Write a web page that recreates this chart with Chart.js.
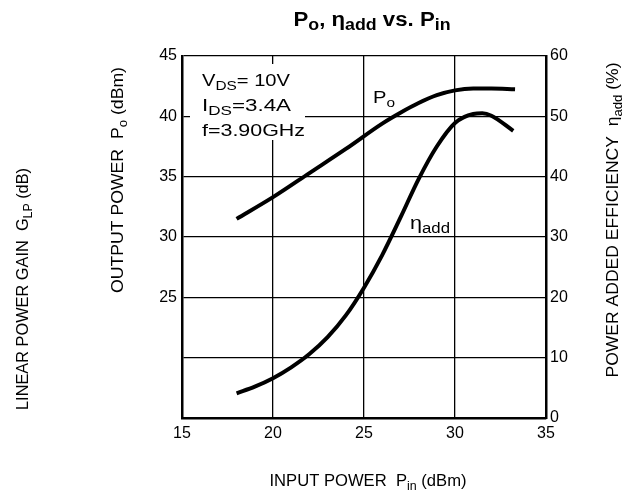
<!DOCTYPE html>
<html>
<head>
<meta charset="utf-8">
<script src="https://cdn.jsdelivr.net/npm/chart.js@4.4.1/dist/chart.umd.min.js"></script>
<style>
  html, body { margin: 0; padding: 0; background: #fff; }
  #wrap { width: 632px; height: 501px; }
</style>
</head>
<body>
<div id="wrap"><canvas id="c" width="632" height="501"></canvas></div>
<script>
// data
const pinPo = [18, 20, 22, 24, 26, 27, 28, 29, 30, 31, 32, 33.3];
const po    = [31.5, 33.3, 35.3, 37.3, 39.4, 40.3, 41.1, 41.75, 42.15, 42.3, 42.3, 42.25];

const pinEff = [18, 19, 20, 21, 22, 23, 24, 25, 26, 27, 28, 29, 30, 31, 31.5, 32, 33.2];
const eff    = [4.1, 5.2, 6.6, 8.4, 10.6, 13.4, 17.0, 21.6, 27.0, 33.2, 39.6, 45.0, 48.9, 50.4, 50.5, 50.1, 47.6];

const xTicks = [15, 20, 25, 30, 35];
const poTicks = [25, 30, 35, 40, 45];     // left axis only labels these
const effTicks = [0, 10, 20, 30, 40, 50, 60];

const FONT = '"Liberation Sans", Arial, sans-serif';

// draw text with subscripts; segs = [[text, isSub], ...]
function richWidth(ctx, segs, size, bold) {
  let w = 0;
  segs.forEach(([t, sub]) => {
    ctx.font = (bold ? 'bold ' : '') + Math.round(sub ? size * 0.78 : size) + 'px ' + FONT;
    w += ctx.measureText(t).width;
  });
  return w;
}
function drawRich(ctx, segs, x, y, size, opt = {}) {
  ctx.save();
  ctx.translate(x, y);
  if (opt.rotate) ctx.rotate(opt.rotate);
  const natural = richWidth(ctx, segs, size, opt.bold);
  if (opt.width) ctx.scale(opt.width / natural, 1);
  ctx.fillStyle = '#000';
  ctx.textBaseline = 'alphabetic';
  ctx.textAlign = 'left';
  let cx = opt.center ? -natural / 2 : 0;
  segs.forEach(([t, sub]) => {
    ctx.font = (opt.bold ? 'bold ' : '') + Math.round(sub ? size * 0.78 : size) + 'px ' + FONT;
    ctx.fillText(t, cx, sub ? size * 0.22 : 0);
    cx += ctx.measureText(t).width;
  });
  ctx.restore();
}

const decor = {
  id: 'decor',
  beforeDatasetsDraw(chart) {
    // blank patch behind the condition box (grid is broken there)
    const ctx = chart.ctx;
    ctx.save();
    ctx.fillStyle = '#fff';
    ctx.fillRect(chart.chartArea.left + 8, chart.chartArea.top + 8, 115, 76);
    ctx.restore();
  },
  afterDraw(chart) {
    const ctx = chart.ctx;
    // title
    drawRich(ctx, [['P', 0], ['o', 1], [', \u03b7', 0], ['add', 1], [' vs. P', 0], ['in', 1]], 372, 26, 20, { center: true, bold: true, width: 157 });
    // conditions
    drawRich(ctx, [['V', 0], ['DS', 1], ['= 10V', 0]], 202, 86, 17, { width: 88 });
    drawRich(ctx, [['I', 0], ['DS', 1], ['=3.4A', 0]], 202, 111, 17, { width: 89 });
    drawRich(ctx, [['f=3.90GHz', 0]], 202, 136, 17, { width: 103 });
    // curve labels
    drawRich(ctx, [['P', 0], ['o', 1]], 373, 103, 17, { width: 22 });
    drawRich(ctx, [['\u03b7', 0], ['add', 1]], 410, 229, 18, { width: 40 });
    // axis titles
    drawRich(ctx, [['LINEAR POWER GAIN  G', 0], ['LP', 1], [' (dB)', 0]], 28, 289, 16, { center: true, rotate: -Math.PI / 2, width: 242 });
    drawRich(ctx, [['OUTPUT POWER  P', 0], ['o', 1], [' (dBm)', 0]], 123, 180, 16, { center: true, rotate: -Math.PI / 2, width: 226 });
    drawRich(ctx, [['POWER ADDED EFFICIENCY  \u03b7', 0], ['add', 1], [' (%)', 0]], 618, 220, 16, { center: true, rotate: -Math.PI / 2, width: 315 });
    drawRich(ctx, [['INPUT POWER  P', 0], ['in', 1], [' (dBm)', 0]], 368, 486, 16, { center: true, width: 197 });
  }
};

const toPts = (xs, ys) => xs.map((x, i) => ({ x, y: ys[i] }));

new Chart(document.getElementById('c'), {
  type: 'line',
  data: {
    datasets: [
      {
        label: 'Po',
        data: toPts(pinPo, po),
        yAxisID: 'y',
        borderColor: '#000',
        borderWidth: 4,
        pointRadius: 0,
        cubicInterpolationMode: 'monotone'
      },
      {
        label: 'eff',
        data: toPts(pinEff, eff),
        yAxisID: 'y2',
        borderColor: '#000',
        borderWidth: 4,
        pointRadius: 0,
        cubicInterpolationMode: 'monotone'
      }
    ]
  },
  options: {
    responsive: false,
    animation: false,
    events: [],
    layout: { padding: { left: 140, right: 0, top: 56, bottom: 53 } },
    plugins: { legend: { display: false }, tooltip: { enabled: false } },
    scales: {
      x: {
        type: 'linear',
        min: 15, max: 35,
        afterBuildTicks: s => { s.ticks = xTicks.map(v => ({ value: v })); },
        afterFit: s => { s.height = 30; },
        grid: { color: '#000', lineWidth: 1.3, drawTicks: false },
        border: { color: '#000', width: 2.5 },
        ticks: { color: '#000', padding: 6, font: { family: FONT, size: 16 } }
      },
      y: {
        position: 'left',
        min: 15, max: 45,
        ticks: {
          stepSize: 5,
          color: '#000', padding: 5,
          font: { family: FONT, size: 16 },
          callback: v => poTicks.includes(v) ? String(v) : ''
        },
        afterFit: s => { s.width = 42; },
        grid: { color: '#000', lineWidth: 1.3, drawTicks: false },
        border: { color: '#000', width: 2.5 }
      },
      y2: {
        position: 'right',
        min: 0, max: 60,
        afterBuildTicks: s => { s.ticks = effTicks.map(v => ({ value: v })); },
        ticks: { color: '#000', padding: 4, font: { family: FONT, size: 16 } },
        afterFit: s => { s.width = 86; },
        grid: { display: false, drawTicks: false },
        border: { color: '#000', width: 2.5 }
      }
    }
  },
  plugins: [decor]
});
</script>
</body>
</html>
